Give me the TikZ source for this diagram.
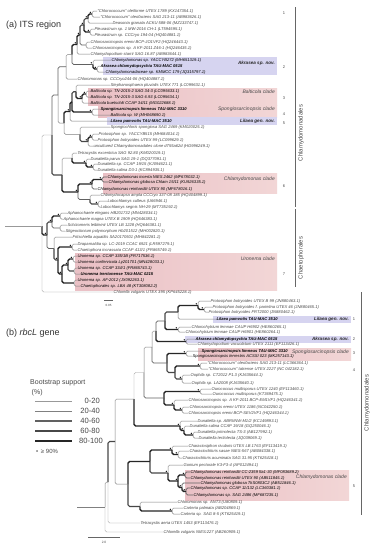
\documentclass[tikz,border=0pt]{standalone}
\usepackage{fontspec}
\setmainfont{Liberation Sans}
\definecolor{bbox}{RGB}{214,212,240}
\definecolor{rboxL}{RGB}{234,192,197}
\definecolor{rboxR}{RGB}{242,214,214}
\definecolor{txc}{RGB}{72,72,72}
\tikzset{
 tx/.style={anchor=west, inner sep=0.4pt, text=txc, font=\fontsize{4.1}{4.5}\selectfont\itshape},
 txk/.style={tx, text=black},
 txb/.style={tx, text=black, font=\fontsize{4.1}{4.5}\selectfont\bfseries\itshape},
 br/.style={rounded corners=1.6pt},
 bs1/.style={br, line width=0.35pt, draw=black!40},
 bs2/.style={br, line width=0.5pt, draw=black!50},
 bs3/.style={br, line width=0.8pt, draw=black!62},
 bs4/.style={br, line width=1.1pt, draw=black!72},
 bs5/.style={br, line width=1.45pt, draw=black!85},
 clab/.style={anchor=east, inner sep=0pt, font=\fontsize{5}{6}\selectfont\itshape, text=txc},
 clabb/.style={clab, font=\fontsize{4.6}{5.5}\selectfont\bfseries\itshape, text=black!85},
 num/.style={font=\fontsize{4}{5}\selectfont, text=txc, inner sep=0pt},
 ord/.style={rotate=90, font=\fontsize{6}{7}\selectfont, text=txc, inner sep=0pt},
 ordl/.style={line width=0.6pt, draw=black!60},
 rbx/.style={left color=rboxL, right color=rboxR, draw=none},
 lgt/.style={anchor=west, inner sep=0pt, font=\fontsize{7}{8}\selectfont, text=txc},
 lgn/.style={anchor=east, inner sep=0pt, font=\fontsize{7.6}{8}\selectfont, text=txc},
 ttl/.style={anchor=west, inner sep=0pt, font=\fontsize{9}{10}\selectfont, text=black!80},
}
\newcommand\tipn[4][tx]{\node[#1] (#2) at (#3) {#4};}
\newcommand\bt[3][bs2]{\draw[#1] (#2) |- (#3.west);}
\newcommand\bn[3]{\draw[#1] (#2) |- (#3);}
\newcommand\dt[1]{\fill[black] (#1) ++(-1.7,-1.7) circle (0.7);}
\begin{document}
\begin{tikzpicture}[x=1pt,y=-1pt]
\useasboundingbox (0,0) rectangle (375,550);
\fill[white] (0,0) rectangle (375,550);
% ---------- boxes (a)
\fill[bbox] (103,57) rectangle (277,75);
\shade[rbx] (88,88) rectangle (277,105);
\shade[rbx] (98,105) rectangle (277,117);
\fill[bbox] (107,117) rectangle (277,124.5);
\shade[rbx] (103,173) rectangle (277,193);
\shade[rbx] (75,253) rectangle (277,290);
% ---------- boxes (b)
\fill[bbox] (213,316) rectangle (351,322.5);
\fill[bbox] (185,336) rectangle (351,342.5);
\shade[rbx] (198,348) rectangle (351,360);
\shade[rbx] (185,470) rectangle (349,500);
% ---------- titles
\node[ttl] (ta) at (6,25) {(a) ITS region};
\node[ttl] (tb) at (6,333) {(b) \textit{rbcL} gene};
% ---------- tips (a)
\tipn{a1}{97,11}{“Chlorococcum” oleiforme UTEX 1789 (KX147354.1)}
\tipn{a2}{100,17}{“Chlorococcum” oleofaciens SAG 213-11 (AB983626.1)}
\tipn{a3}{112,23}{Deasonia granata ACKU 588-06 (MZ133747.1)}
\tipn{a4}{94,29}{Pleurastrum sp. 1 MW-2016 CH-1 (LT594595.1)}
\tipn{a5}{94,35}{Pleurastrum sp. CCCryo 194-04 (HQ404881.1)}
\tipn{a6}{90,42}{Chlorosarcinopsis eremi BCP-JO1VF2 (HQ246443.1)}
\tipn{a7}{92,48}{Chlorosarcinopsis sp. A KF-2011 Z46-1 (HQ246435.1)}
\tipn{a8}{90,54}{Chlamydopodium starrii SAG 16.87 (AB983644.1)}
\tipn[txk]{a9}{111,60}{Chlamydomonas sp. YACCYB272 (MH651319.1)}
\tipn[txb]{a10}{100,66}{Akrasea chlamydopsychia TAU-MAC 0515}
\tipn[txk]{a11}{105,72}{Chlamydomonadaceae sp. KMMCC 179 (JQ315797.1)}
\tipn{a12}{77,79}{Chloromonas sp. CCCryo244-06 (HQ404887.1)}
\tipn{a13}{110,85}{Stephanosphaera pluvialis UTEX 771 (LC099631.1)}
\tipn[txk]{a14}{90,91}{Balticola sp. TN-2015-2 SAG 34-3 (LC095633.1)}
\tipn[txk]{a15}{90,97}{Balticola sp. TN-2015-3 SAG 6.93 (LC095634.1)}
\tipn[txk]{a16}{90,103}{Balticola buetschlii CCAP 34/11 (MG022688.1)}
\tipn[txb]{a17}{100,109}{Spongiosarcinopsis limneus TAU-MAC 3310}
\tipn[txk]{a18}{110,115}{Balticola sp. W (MH068690.1)}
\tipn[txb]{a19}{110,121}{Lilaea pamvotis TAU-MAC 3510}
\tipn{a20}{110,127}{Spongiochloris spongiosa SAG 2469 (KM020025.1)}
\tipn{a21}{98,134}{Protosiphon sp. YACCYB515 (MH684014.1)}
\tipn{a22}{97,140}{Protosiphon botryoides UTEX 99 (LC099629.1)}
\tipn{a23}{93,146}{uncultured Chlamydomonadales clone d755a62d (HG996249.1)}
\tipn{a24}{77,153}{Tetracystis excentrica SAG 92.80 (KM020019.1)}
\tipn{a25}{90,159}{Dunaliella parva SAG 19-1 (DQ377091.1)}
\tipn{a26}{97,164}{Dunaliella sp. CCAP 19/15 (KJ094621.1)}
\tipn{a27}{97,170}{Dunaliella salina D3-1 (KC894935.1)}
\tipn[txk]{a28}{107,177}{Chlamydomonas incerta NIES 2462 (MF678032.1)}
\tipn[txk]{a29}{108,182}{Chlamydomonas globosa Chlam 15/11 (KU926335.1)}
\tipn[txk]{a30}{97,189}{Chlamydomonas reinhardtii UTEX 90 (MF678016.1)}
\tipn{a31}{100,195}{Chlamydocapsa ampla CCCryo 337-08 185 (HQ404899.1)}
\tipn{a32}{107,201}{Lobochlamys culleus (U66946.1)}
\tipn{a33}{100,207}{Lobochlamys segnis NH-29 (MT735192.1)}
\tipn{a34}{67,213}{Aphanochaete elegans HB201732 (MN428034.1)}
\tipn{a35}{63,219}{Aphanochaete magna UTEX B 1909 (HQ646383.1)}
\tipn{a36}{67,225}{Schizomeris leibleinii UTEX LB 1228 (HQ646381.1)}
\tipn{a37}{65,231}{Stigeoclonium polymorphum Hb201512 (MH002820.1)}
\tipn{a38}{72,237}{Fritschiella aquatilis SA20170501 (MH842281.1)}
\tipn{a39}{77,244}{Draparnaldia sp. LC-2019 CCAC 6921 (LR597279.1)}
\tipn{a40}{77,250}{Chaetophora incrassata CCAP 413/1 (FR865749.1)}
\tipn[txk]{a41}{77,256}{Uronema sp. CCAP 335/1B (FR717536.1)}
\tipn[txk]{a42}{77,262}{Uronema confervicola Ly201701 (MN428033.1)}
\tipn[txk]{a43}{77,268}{Uronema sp. CCAP 334/1 (FR865743.1)}
\tipn[txb]{a44}{80,274}{Uronema trentonense TAU-MAC 0215}
\tipn[txk]{a45}{77,280}{Uronema sp. AF-2012 (JX092263.1)}
\tipn[txk]{a46}{80,286}{Chaetophorales sp. LBA 48 (KT308082.2)}
\tipn{a47}{113,292}{Chlorella vulgaris UTEX 395 (KP645228.1)}
% ---------- internal nodes (a)
\coordinate (n1) at (92,14);
\coordinate (n2) at (88,18.5);
\coordinate (n3) at (90,32);
\coordinate (n4) at (84,25);
\coordinate (n5) at (86,45);
\coordinate (n6) at (80,35);
\coordinate (n7) at (77,44.5);
\coordinate (n8) at (97,69);
\coordinate (n9) at (93,64.5);
\coordinate (n10) at (72,54.5);
\coordinate (n11) at (66,66.75);
\coordinate (n12) at (86,94);
\coordinate (n13) at (82,98.5);
\coordinate (n14) at (76,91.75);
\coordinate (n15) at (92,112);
\coordinate (n16) at (72,102);
\coordinate (n17) at (70,111.5);
\coordinate (n18) at (92,137);
\coordinate (n19) at (88,141.5);
\coordinate (n20) at (80,134.3);
\coordinate (n21) at (64,123);
\coordinate (n22) at (58,95);
\coordinate (n23) at (93,167);
\coordinate (n24) at (86,163);
\coordinate (n25) at (72,158);
\coordinate (n26) at (102,179.5);
\coordinate (n27) at (92,184);
\coordinate (n28) at (98,204);
\coordinate (n29) at (90,199.5);
\coordinate (n30) at (78,192);
\coordinate (n31) at (62,175);
\coordinate (n32) at (52,135);
\coordinate (c1) at (60,216);
\coordinate (c2) at (60,228);
\coordinate (c3) at (52,222);
\coordinate (c4) at (72,247);
\coordinate (u1) at (73,259);
\coordinate (u2) at (74,271);
\coordinate (u3) at (68,265);
\coordinate (u4) at (74,283);
\coordinate (u5) at (62,274);
\coordinate (c5) at (58,260);
\coordinate (c6) at (54,248.5);
\coordinate (c7) at (47,235);
\coordinate (R) at (42,226);
\coordinate (Rs) at (5,226);
% ---------- branches (a)
\bt{n1}{a1}\bt{n1}{a2}\bt{n2}{a3}\bn{bs5}{n2}{n1}
\bt{n3}{a4}\bt{n3}{a5}\bn{bs4}{n4}{n2}\bn{bs5}{n4}{n3}
\bt{n5}{a6}\bt{n5}{a7}\bn{bs4}{n6}{n4}\bn{bs3}{n6}{n5}
\bn{bs5}{n7}{n6}\bt{n7}{a8}
\bt{n8}{a10}\bt{n8}{a11}\bt{n9}{a9}\bn{bs5}{n9}{n8}
\bn{bs5}{n10}{n7}\bn{bs3}{n10}{n9}
\bn{bs2}{n11}{n10}\bt{n11}{a12}
\bt{n12}{a14}\bt{n12}{a15}\bn{bs5}{n13}{n12}\bt{n13}{a16}
\bt{n14}{a13}\bn{bs5}{n14}{n13}
\bt{n15}{a17}\bt{n15}{a18}
\bn{bs4}{n16}{n14}\bn{bs5}{n16}{n15}
\bn{bs5}{n17}{n16}\bt{n17}{a19}
\bt{n18}{a21}\bt{n18}{a22}\bn{bs5}{n19}{n18}\bt{n19}{a23}
\bt{n20}{a20}\bn{bs4}{n20}{n19}
\bn{bs5}{n21}{n17}\bn{bs2}{n21}{n20}
\bn{bs3}{n22}{n11}\bn{bs2}{n22}{n21}
\bt{n23}{a26}\bt{n23}{a27}\bt{n24}{a25}\bn{bs5}{n24}{n23}
\bt{n25}{a24}\bn{bs5}{n25}{n24}
\bt[bs3]{n26}{a28}\bt[bs3]{n26}{a29}\bn{bs5}{n27}{n26}\bt[bs3]{n27}{a30}
\bt{n28}{a32}\bt{n28}{a33}\bt{n29}{a31}\bn{bs4}{n29}{n28}
\bn{bs5}{n30}{n27}\bn{bs3}{n30}{n29}
\bn{bs2}{n31}{n25}\bn{bs5}{n31}{n30}
\bn{bs3}{n32}{n22}\bn{bs4}{n32}{n31}
\bt{c1}{a34}\bt{c1}{a35}\bt{c2}{a36}\bt{c2}{a37}
\bn{bs5}{c3}{c1}\bn{bs3}{c3}{c2}
\bt{c4}{a39}\bt{c4}{a40}
\bt{u1}{a41}\bt{u1}{a42}\bt{u2}{a43}\bt{u2}{a44}
\bn{bs5}{u3}{u1}\bn{bs4}{u3}{u2}
\bt{u4}{a45}\bt{u4}{a46}
\bn{bs5}{u5}{u3}\bn{bs5}{u5}{u4}
\bn{bs5}{c5}{c4}\bn{bs5}{c5}{u5}
\bt{c6}{a38}\bn{bs4}{c6}{c5}
\bn{bs4}{c7}{c3}\bn{bs3}{c7}{c6}
\bn{bs1}{R}{n32}\bn{bs5}{R}{c7}\bt[bs1]{R}{a47}
\draw[bs1] (Rs) -- (R);
\foreach \d in {n1,n2,n3,n4,n6,n7,n8,n9,n12,n13,n15,n17,n18,n19,n23,n24,n26,n27,n28,n30,c1,c3,c4,u1,u3,u5,c5,c7}{\dt{\d}}
% ---------- clade labels (a)
\node[clabb] (la2) at (275,63) {Akrasea sp. nov.};
\node[clab] (la3) at (275,92) {Balticola clade};
\node[clab] (la4) at (275,109.5) {Spongiosarcinopsis clade};
\node[clabb] (la5) at (275,121) {Lilaea gen. nov.};
\node[clab] (la6) at (275,179) {Chlamydomonas clade};
\node[clab] (la7) at (275,259) {Uronema clade};
\node[num] (na1) at (284,13) {1};
\node[num] (na2) at (284,67) {2};
\node[num] (na3) at (284,98) {3};
\node[num] (na4) at (284,114) {4};
\node[num] (na5) at (284,123) {5};
\node[num] (na6) at (284,186) {6};
\node[num] (na7) at (284,274) {7};
\coordinate (oa1) at (295,7); \coordinate (oa2) at (295,207);
\coordinate (oa3) at (295,209); \coordinate (oa4) at (295,287);
\draw[ordl] (oa1) -- (oa2);
\draw[ordl] (oa3) -- (oa4);
\node[ord] (oaL) at (301,133) {Chlamydomonadales};
\node[ord] (oaC) at (301,258) {Chaetophorales};
\coordinate (sa1) at (104,300); \coordinate (sa2) at (113,300);
\draw[line width=0.4pt, black!60] (sa1) -- (sa2);
\node[num, font=\fontsize{3}{3.5}\selectfont] (sal) at (108.5,305) {0.05};
% ---------- tips (b)
\tipn{b1}{210,301}{Protosiphon botryoides UTEX B 99 (JN880463.1)}
\tipn{b2}{212,307}{Protosiphon botryoides f. parietina UTEX 46 (JN880465.1)}
\tipn{b3}{208,312}{Protosiphon botryoides FRT2000 (JN880462.1)}
\tipn[txb]{b4}{216,319}{Lilaea pamvotis TAU-MAC 3510}
\tipn{b5}{191,327}{Chlorochytrium lemnae CAUP H6902 (HE860265.1)}
\tipn{b6}{185,332}{Chlorochytrium lemnae CAUP H6901 (HE860264.1)}
\tipn[txb]{b7}{195,339}{Akrasea chlamydopsychia TAU-MAC 0515}
\tipn{b8}{197,344}{Chlamydopodium vacuolatum UTEX 2111 (EF113426.1)}
\tipn[txb]{b9}{201,351}{Spongiosarcinopsis limneus TAU-MAC 3310}
\tipn[txk]{b10}{192,356}{Spongiosarcinopsis terrestris ACSSI 023 (MK257143.1)}
\tipn{b11}{207,363}{“Chlorococcum” oleofaciens SAG 213-11 (LC366364.1)}
\tipn{b12}{208,369}{“Chlorococcum” tatrense UTEX 2227 (NC 042182.1)}
\tipn{b13}{190,375}{Oophila sp. CT2012 P1.3 (KJ635644.1)}
\tipn{b14}{191,383}{Oophila sp. LA2008 (KJ635640.1)}
\tipn{b15}{211,389}{Ourococcus multisporus UTEX 1240 (EF113460.1)}
\tipn{b16}{212,394}{Ourococcus multisporus (KT369475.1)}
\tipn{b17}{188,400}{Chlorosarcinopsis sp. A KF-2011 BCP-EM1VF1 (HQ246341.1)}
\tipn{b18}{189,407}{Chlorosarcinopsis eremi UTEX 1186 (NC042250.1)}
\tipn{b19}{188,413}{Chlorosarcinopsis eremi BCP-SEV2VF1 (HQ246344.1)}
\tipn{b20}{197,421}{Dunaliella sp. ABRIINW-M1/2 (KC149893.1)}
\tipn{b21}{189,426}{Dunaliella salina CCAP 19/18 (GQ250046.1)}
\tipn{b22}{197,432}{Dunaliella primolecta TS-3 (AB127992.1)}
\tipn{b23}{198,438}{Dunaliella tertiolecta (JQ039069.1)}
\tipn{b24}{188,446}{Characiosiphon rivularis UTEX LB 1763 (EF113419.1)}
\tipn{b25}{189,451}{Characiochloris sasae NIES-567 (AB084338.1)}
\tipn{b26}{182,458}{Characiochloris acuminata SAG 31.95 (KT625418.1)}
\tipn{b27}{183,465}{Gonium pectorale K3-F3-4 (AP012494.1)}
\tipn[txk]{b28}{190,472}{Chlamydomonas reinhardtii CC-2359 fta1-30 (MF083689.2)}
\tipn[txk]{b29}{190,478}{Chlamydomonas reinhardtii UTEX 90 (AB511845.1)}
\tipn[txk]{b30}{200,483}{Chlamydomonas globosa TkS0803C2 (AB511846.1)}
\tipn[txk]{b31}{190,488}{Chlamydomonas sp. CCAP 11/132 (LC360381.1)}
\tipn[txk]{b32}{193,495}{Chlamydomonas sp. SAG 2486 (MF687235.1)}
\tipn{b33}{177,502}{Chloromonas sp. ANT3 (U80809.1)}
\tipn{b34}{183,508}{Carteria palmata (AB204869.1)}
\tipn{b35}{180,514}{Carteria sp. SAG 8-5 (KT625419.1)}
\tipn{b36}{140,523}{Tetracystis aeria UTEX 1453 (EF113476.1)}
\tipn{b37}{163,532}{Chlorella vulgaris NIES:227 (AB260909.1)}
% ---------- internal nodes (b)
\coordinate (p1) at (204,309.5);
\coordinate (p2) at (198,305.5);
\coordinate (p3) at (178,312);
\coordinate (p4) at (178,329.5);
\coordinate (p5) at (165,321);
\coordinate (p6) at (186,341.5);
\coordinate (p7) at (156,331);
\coordinate (p8) at (186,353.5);
\coordinate (p9) at (200,366);
\coordinate (p10) at (182,379);
\coordinate (p11) at (175,372.5);
\coordinate (p12) at (167,363);
\coordinate (p13) at (152,347);
\coordinate (p14) at (200,391.5);
\coordinate (p15) at (182,410);
\coordinate (p16) at (174,405);
\coordinate (p17) at (164,398);
\coordinate (p18) at (144,372.5);
\coordinate (p19) at (193,435);
\coordinate (p20) at (184,430.5);
\coordinate (p21) at (180,426);
\coordinate (p22) at (134,399);
\coordinate (p23) at (178,454.5);
\coordinate (p24) at (172,450);
\coordinate (p25) at (185,475);
\coordinate (p26) at (186,491.5);
\coordinate (p27) at (182,487.5);
\coordinate (p28) at (178,481);
\coordinate (p29) at (168,473);
\coordinate (p30) at (150,461.5);
\coordinate (p31) at (172,511);
\coordinate (p32) at (140,506.5);
\coordinate (p33) at (128,484);
\coordinate (p34) at (115,441.5);
\coordinate (p35) at (108,482);
\coordinate (p36) at (105,507);
\coordinate (ps) at (77,507);
% ---------- branches (b)
\bt{p1}{b2}\bt{p1}{b3}\bt{p2}{b1}\bn{bs5}{p2}{p1}
\bn{bs5}{p3}{p2}\bt{p3}{b4}
\bt{p4}{b5}\bt{p4}{b6}
\bn{bs4}{p5}{p3}\bn{bs5}{p5}{p4}
\bt{p6}{b7}\bt{p6}{b8}
\bn{bs3}{p7}{p5}\bn{bs5}{p7}{p6}
\bt{p8}{b9}\bt{p8}{b10}
\bt{p9}{b11}\bt{p9}{b12}\bt{p10}{b13}\bt{p10}{b14}
\bn{bs5}{p11}{p9}\bn{bs4}{p11}{p10}
\bn{bs5}{p12}{p8}\bn{bs4}{p12}{p11}
\bn{bs2}{p13}{p7}\bn{bs3}{p13}{p12}
\bt{p14}{b15}\bt{p14}{b16}
\bt{p15}{b18}\bt{p15}{b19}\bt{p16}{b17}\bn{bs5}{p16}{p15}
\bn{bs5}{p17}{p14}\bn{bs5}{p17}{p16}
\bn{bs2}{p18}{p13}\bn{bs3}{p18}{p17}
\bt{p19}{b22}\bt{p19}{b23}\bt{p20}{b21}\bn{bs5}{p20}{p19}
\bt{p21}{b20}\bn{bs5}{p21}{p20}
\bn{bs1}{p22}{p18}\bn{bs5}{p22}{p21}
\bt{p23}{b25}\bt{p23}{b26}\bt{p24}{b24}\bn{bs5}{p24}{p23}
\bt[bs3]{p25}{b28}\bt[bs3]{p25}{b29}
\bt[bs3]{p26}{b31}\bt[bs3]{p26}{b32}\bt[bs3]{p27}{b30}\bn{bs5}{p27}{p26}
\bn{bs5}{p28}{p25}\bn{bs5}{p28}{p27}
\bt{p29}{b27}\bn{bs5}{p29}{p28}
\bn{bs5}{p30}{p24}\bn{bs4}{p30}{p29}
\bt{p31}{b34}\bt{p31}{b35}\bt{p32}{b33}\bn{bs5}{p32}{p31}
\bn{bs5}{p33}{p30}\bn{bs4}{p33}{p32}
\bn{bs2}{p34}{p22}\bn{bs2}{p34}{p33}
\bn{bs4}{p35}{p34}\bt[bs1]{p35}{b36}
\bn{bs2}{p36}{p35}\bt[bs1]{p36}{b37}
\draw[bs2] (ps) -- (p36);
\foreach \d in {p1,p2,p4,p6,p8,p9,p10,p14,p15,p16,p19,p20,p21,p23,p24,p25,p26,p27,p28,p29,p31}{\dt{\d}}
% ---------- clade labels (b)
\node[clabb] (lb1) at (349,319) {Lilaea gen. nov.};
\node[clabb] (lb2) at (349,339) {Akrasea sp. nov.};
\node[clab] (lb3) at (349,352) {Spongiosarcinopsis clade};
\node[clab] (lb5) at (347,477) {Chlamydomonas clade};
\node[num] (nb1) at (354,319) {1};
\node[num] (nb2) at (354,339) {2};
\node[num] (nb3) at (354,353) {3};
\node[num] (nb4) at (354,370) {4};
\node[num] (nb5) at (354,486) {5};
\coordinate (ob1) at (361,292); \coordinate (ob2) at (361,515);
\draw[ordl] (ob1) -- (ob2);
\node[ord] (obL) at (367,403) {Chlamydomonadales};
\coordinate (sb1) at (88,537); \coordinate (sb2) at (120,537);
\draw[line width=0.5pt, black!60] (sb1) -- (sb2);
\node[num, font=\fontsize{3.2}{3.5}\selectfont] (sbl) at (104,542.5) {2.0};
% ---------- legend
\node[lgt] (lg1) at (30,383) {Bootstrap support};
\node[lgt] (lg2) at (31.5,393) {(\%)};
\coordinate (l1a) at (35,401); \coordinate (l1b) at (72,401);
\coordinate (l2a) at (35,411); \coordinate (l2b) at (72,411);
\coordinate (l3a) at (35,421); \coordinate (l3b) at (72,421);
\coordinate (l4a) at (35,431); \coordinate (l4b) at (72,431);
\coordinate (l5a) at (35,441); \coordinate (l5b) at (72,441);
\draw[bs1, line width=0.5pt] (l1a) -- (l1b);
\draw[bs2, line width=0.75pt] (l2a) -- (l2b);
\draw[bs3, line width=1.05pt] (l3a) -- (l3b);
\draw[bs4, line width=1.35pt] (l4a) -- (l4b);
\draw[bs5, line width=1.7pt] (l5a) -- (l5b);
\node[lgn] (lgn1) at (100,401) {0-20};
\node[lgn] (lgn2) at (100,411) {20-40};
\node[lgn] (lgn3) at (100,421) {40-60};
\node[lgn] (lgn4) at (100,431) {60-80};
\node[lgn] (lgn5) at (103,441) {80-100};
\node[lgt, font=\fontsize{6}{7}\selectfont] (lg6) at (36,451.5) {•\, ≥ 90\%};
\end{tikzpicture}
\end{document}
